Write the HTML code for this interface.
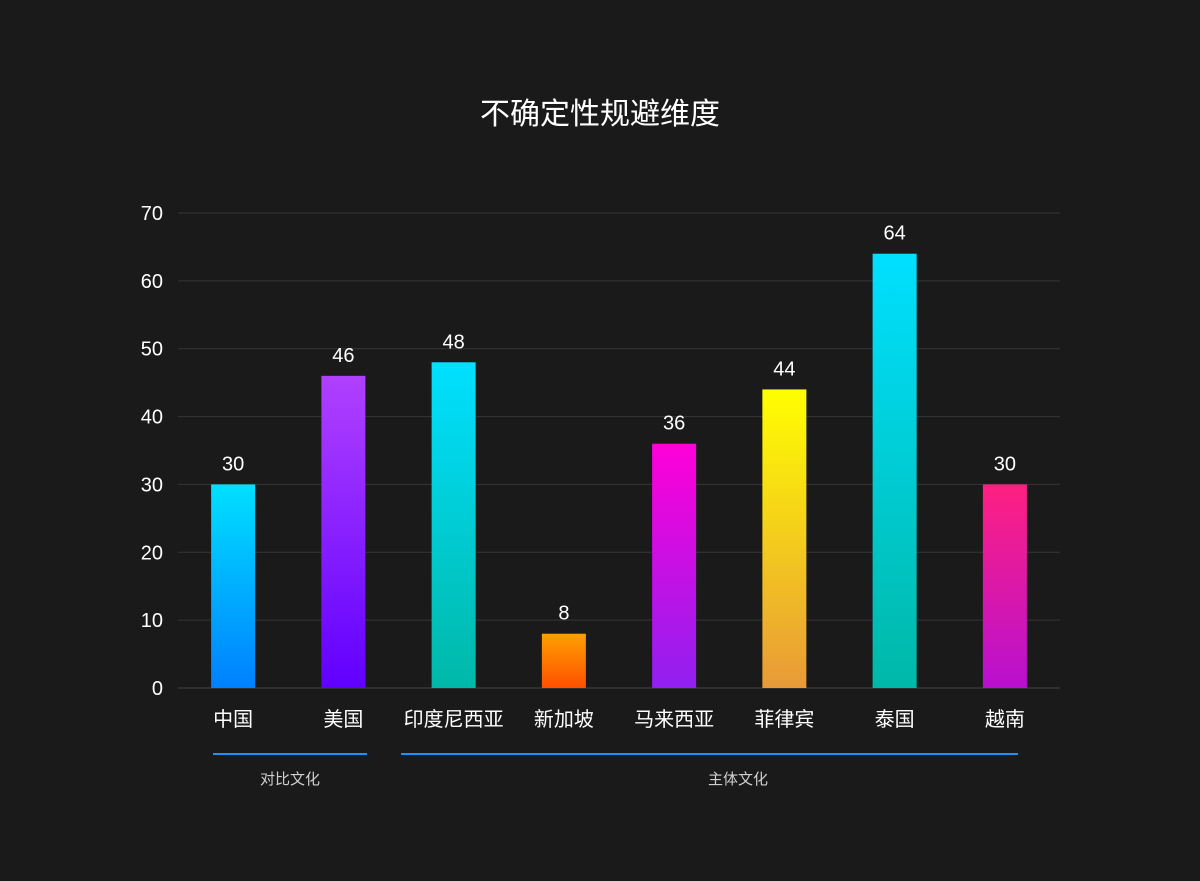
<!DOCTYPE html>
<html><head><meta charset="utf-8"><style>
html,body{margin:0;padding:0;background:#1a1a1a;}
svg{display:block;font-family:"Liberation Sans","Noto Sans CJK SC",sans-serif;}
</style></head><body>
<svg id="chart" width="1200" height="881" viewBox="0 0 1200 881">
<rect width="1200" height="881" fill="#1a1a1a"/>
<defs id="defs"></defs>
<text x="600" y="124" text-anchor="middle" font-size="30" fill="#fff">不确定性规避维度</text>
<g id="grid"></g><g id="bars"></g><g id="labels"></g>
<line x1="213" y1="754" x2="367" y2="754" stroke="#1e90ff" stroke-width="2"/>
<line x1="401" y1="754" x2="1018" y2="754" stroke="#1e90ff" stroke-width="2"/>
<text x="290" y="784" text-anchor="middle" font-size="15" fill="#cfcfcf">对比文化</text>
<text x="738" y="784" text-anchor="middle" font-size="15" fill="#cfcfcf">主体文化</text>
</svg>
<script>
const categories=["中国","美国","印度尼西亚","新加坡","马来西亚","菲律宾","泰国","越南"];
const values=[30,46,48,8,36,44,64,30];
const yTicks=[0,10,20,30,40,50,60,70];
const topColors=["#00e0ff","#b040ff","#00e0ff","#ffa000","#ff00d8","#ffff00","#00e0ff","#ff2080"];
const bottomColors=["#0080ff","#6000ff","#00b8a8","#ff5000","#9020f0","#e89a38","#00b8a8","#b810d0"];
const NS="http://www.w3.org/2000/svg";
const x0=178,x1=1060,yBase=688,yTop=213,yMax=70;
const band=(x1-x0)/categories.length,bw=44;
function y(v){return yBase-(v/yMax)*(yBase-yTop);}
function xc(i){return x0+band*(i+0.5);}
function mk(t,a,p){const e=document.createElementNS(NS,t);for(const k in a)e.setAttribute(k,a[k]);p.appendChild(e);return e;}
const grid=document.getElementById('grid'),bars=document.getElementById('bars'),labels=document.getElementById('labels'),defs=document.getElementById('defs');
yTicks.forEach(t=>{
 const l=mk('line',{x1:x0,x2:x1,y1:y(t),y2:y(t),stroke:t===0?'#444':'#363636','stroke-width':1},grid);
 
 
 const tx=mk('text',{x:163,y:y(t)+7,'text-anchor':'end','font-size':20,fill:'#fff'},grid);
 tx.textContent=t;
 
 
});
categories.forEach((c,i)=>{
 const g=mk('linearGradient',{id:'g'+i,x1:0,y1:0,x2:0,y2:1},defs);
 mk('stop',{offset:0,'stop-color':topColors[i]},g);
 mk('stop',{offset:1,'stop-color':bottomColors[i]},g);
 const r=mk('rect',{x:xc(i)-bw/2,y:y(values[i]),width:bw,height:yBase-y(values[i]),fill:'url(#g'+i+')'},bars);
 
 
 const v=mk('text',{x:xc(i),y:y(values[i])-14,'text-anchor':'middle','font-size':20,fill:'#fff'},labels);
 v.textContent=values[i];
 
 
 const cl=mk('text',{x:xc(i),y:726,'text-anchor':'middle','font-size':20,fill:'#fff'},labels);
 cl.textContent=c;
 
 
});
</script>
</body></html>
